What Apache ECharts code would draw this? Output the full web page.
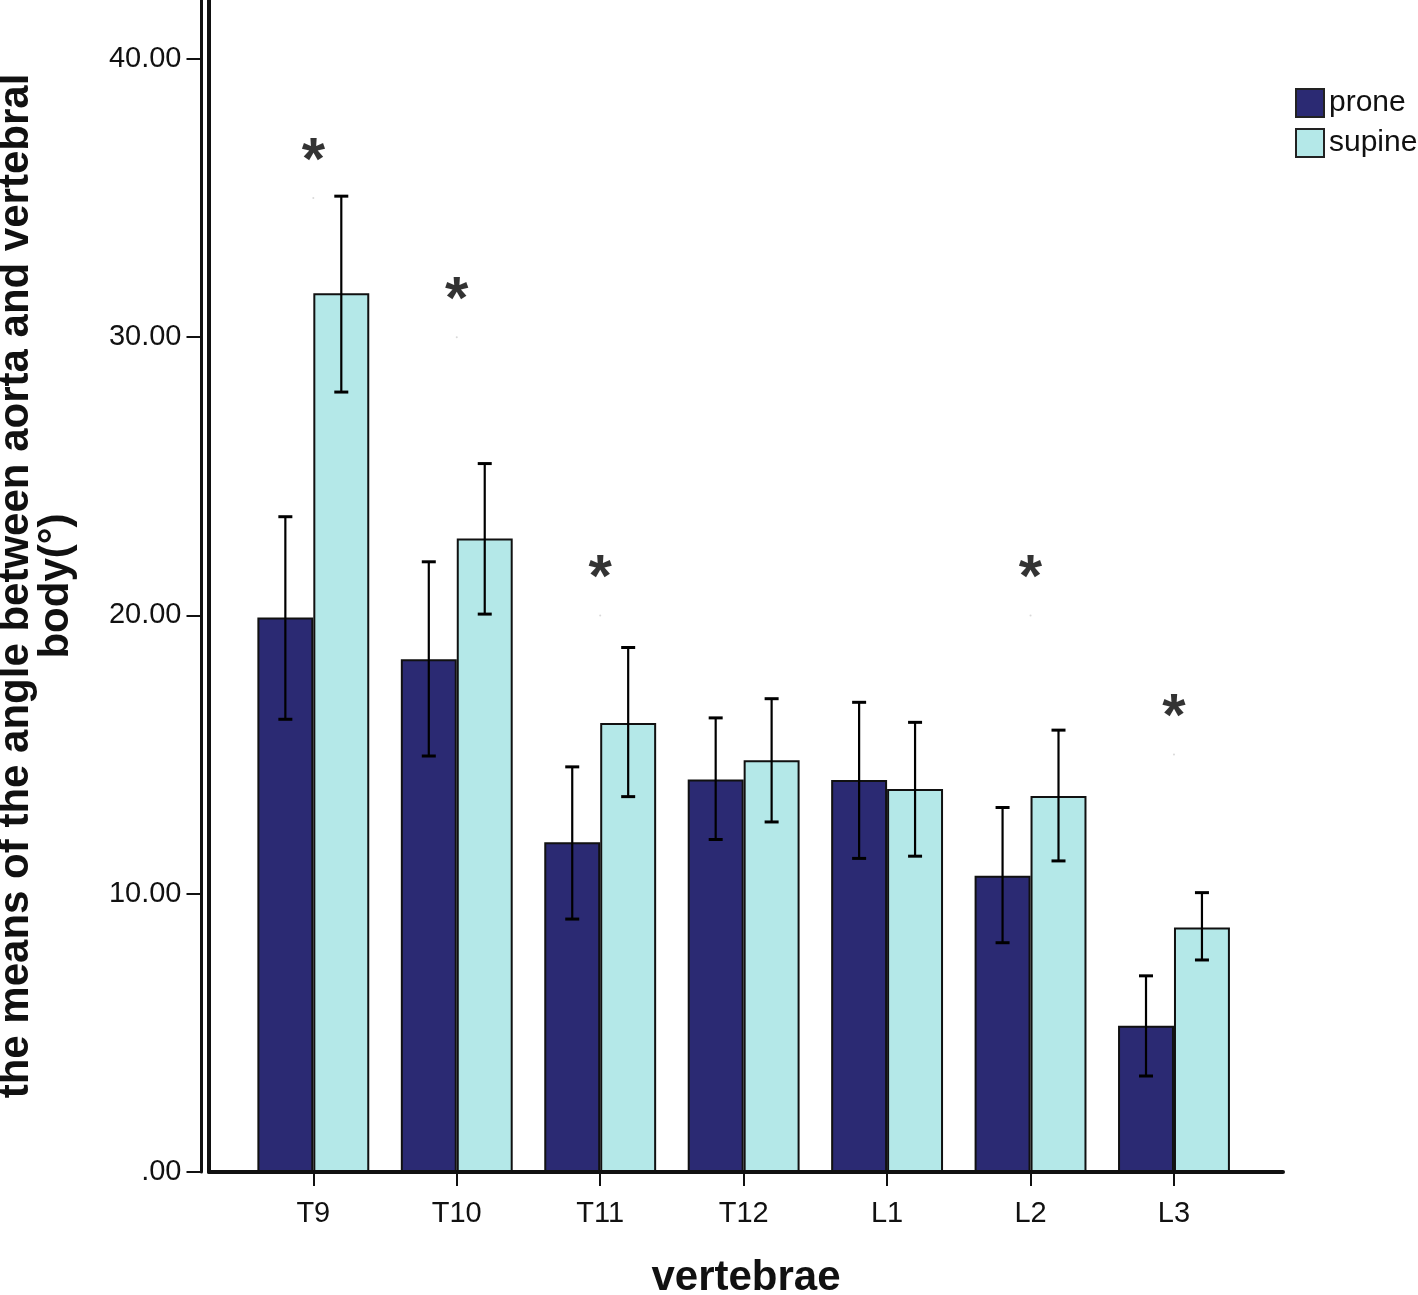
<!DOCTYPE html>
<html>
<head>
<meta charset="utf-8">
<script src="https://cdn.jsdelivr.net/npm/echarts@6/dist/echarts.min.js"></script>
<style>
  html, body { margin: 0; padding: 0; background: #ffffff; }
  #chart { width: 1418px; height: 1295px; }
</style>
</head>
<body>
<div id="chart"></div>
<script>
// ---- data ----
const categories = ['T9', 'T10', 'T11', 'T12', 'L1', 'L2', 'L3'];
const seriesNames = ['prone', 'supine'];
const proneMean  = [19.93, 18.43, 11.85, 14.11, 14.09, 10.65, 5.26];
const proneLow   = [16.27, 14.95, 9.09, 11.95, 11.27, 8.24, 3.45];
const proneHigh  = [23.55, 21.93, 14.56, 16.32, 16.88, 13.10, 7.05];
const supineMean = [31.58, 22.77, 16.14, 14.80, 13.76, 13.51, 8.79];
const supineLow  = [28.03, 20.05, 13.49, 12.58, 11.35, 11.18, 7.62];
const supineHigh = [35.07, 25.46, 18.85, 17.01, 16.16, 15.88, 10.04];
// significance markers: category and marker anchor value
const sigCategories = ['T9', 'T10', 'T11', 'L2', 'L3'];
const sigValues = [35, 30, 20, 20, 15];
const yTicks = [0, 10, 20, 30, 40];

const yMin = 0, yMax = 42.12, yInterval = 10;
const barCategoryGap = 0.22;
const FONT = "'Liberation Sans', Arial, sans-serif";

const errData = [];
categories.forEach((c, i) => {
  errData.push([i, proneLow[i], proneHigh[i], 0]);
  errData.push([i, supineLow[i], supineHigh[i], 1]);
});

function renderErr(params, api) {
  const idx = api.value(0);
  const lo = api.coord([idx, api.value(1)]);
  const hi = api.coord([idx, api.value(2)]);
  const band = api.size([1, 0])[0];
  const barW = band * (1 - barCategoryGap) / 2;
  const off = api.value(3) === 0 ? -barW / 2 : barW / 2;
  const x = lo[0] + off;
  const cap = 7;
  const style = { stroke: '#000', lineWidth: 2.2 };
  return {
    type: 'group',
    children: [
      { type: 'line', shape: { x1: x, y1: lo[1], x2: x, y2: hi[1] }, style },
      { type: 'line', shape: { x1: x - cap, y1: hi[1], x2: x + cap, y2: hi[1] }, style: { stroke: '#000', lineWidth: 3 } },
      { type: 'line', shape: { x1: x - cap, y1: lo[1], x2: x + cap, y2: lo[1] }, style: { stroke: '#000', lineWidth: 3 } }
    ]
  };
}

const chart = echarts.init(document.getElementById('chart'), null, { renderer: 'canvas' });

const hiddenAxisCommon = {
  axisLine: { show: false }, axisTick: { show: false },
  axisLabel: { show: false }, splitLine: { show: false }
};

chart.setOption({
  backgroundColor: '#ffffff',
  animation: false,
  textStyle: { fontFamily: FONT },
  grid: [
    { left: 241.6, right: 172.3, top: 0, bottom: 123, outerBoundsMode: 'none', containLabel: false },
    { left: 209, right: 135, top: 0, bottom: 123, outerBoundsMode: 'none', containLabel: false }
  ],
  legend: {
    data: seriesNames,
    orient: 'vertical',
    left: 1290,
    top: 83,
    itemWidth: 28,
    itemHeight: 28,
    itemGap: 10,
    icon: 'rect',
    itemStyle: { borderColor: '#222', borderWidth: 2 },
    textStyle: { fontSize: 30, color: '#111', fontFamily: FONT }
  },
  xAxis: [
    {
      type: 'category', gridIndex: 0, data: categories,
      boundaryGap: true, position: 'bottom', offset: 6,
      axisLine: { show: false },
      axisTick: { show: true, alignWithLabel: true, length: 14, lineStyle: { color: '#111', width: 2 } },
      axisLabel: { show: true, fontSize: 29, color: '#111', margin: 21, fontFamily: FONT },
      splitLine: { show: false }
    },
    {
      type: 'category', gridIndex: 1, data: [''], position: 'bottom', offset: 0,
      axisLine: { show: true, lineStyle: { color: '#888', width: 1.5 } },
      axisTick: { show: false }, axisLabel: { show: false }, splitLine: { show: false },
      name: 'vertebrae', nameLocation: 'middle', nameGap: 85,
      nameTextStyle: { fontSize: 42, fontWeight: 'bold', color: '#111', fontFamily: FONT, lineHeight: 42 }
    },
    {
      type: 'category', gridIndex: 1, data: [''], position: 'bottom', offset: 4,
      axisLine: { show: true, lineStyle: { color: '#111', width: 4 } },
      axisTick: { show: false }, axisLabel: { show: false }, splitLine: { show: false }
    }
  ],
  yAxis: [
    Object.assign({ type: 'value', gridIndex: 0, min: yMin, max: yMax, interval: yInterval }, hiddenAxisCommon),
    {
      type: 'value', gridIndex: 1, min: yMin, max: yMax, interval: yInterval, position: 'left', offset: 0,
      axisLine: { show: true, lineStyle: { color: '#111', width: 4 } },
      axisTick: { show: false }, axisLabel: { show: false }, splitLine: { show: false }
    },
    {
      type: 'value', gridIndex: 1, min: yMin, max: yMax, interval: yInterval, position: 'left', offset: 7.5,
      axisLine: { show: true, lineStyle: { color: '#111', width: 3 } },
      axisTick: { show: true, length: 15, customValues: yTicks, lineStyle: { color: '#111', width: 2 } },
      axisLabel: {
        show: true, fontSize: 29, color: '#111', margin: 20, fontFamily: FONT,
        customValues: yTicks, padding: [6, 0, 0, 0],
        formatter: v => (v === 0 ? '.00' : v.toFixed(2))
      },
      splitLine: { show: false },
      name: 'the means of the angle between aorta and vertebral\nbody(°)',
      nameLocation: 'middle', nameRotate: 90, nameGap: 125,
      nameTextStyle: { fontSize: 42, fontWeight: 'bold', color: '#111', fontFamily: FONT, lineHeight: 40, align: 'center' }
    }
  ],
  series: [
    {
      name: 'prone', type: 'bar', xAxisIndex: 0, yAxisIndex: 0,
      data: proneMean, barGap: '0%', barCategoryGap: (barCategoryGap * 100) + '%',
      itemStyle: { color: '#2b2a73', borderColor: '#111', borderWidth: 2 }
    },
    {
      name: 'supine', type: 'bar', xAxisIndex: 0, yAxisIndex: 0,
      data: supineMean, barGap: '0%', barCategoryGap: (barCategoryGap * 100) + '%',
      itemStyle: { color: '#b4e8e8', borderColor: '#111', borderWidth: 2 }
    },
    {
      name: 'errors', type: 'custom', xAxisIndex: 0, yAxisIndex: 0,
      renderItem: renderErr, data: errData, z: 5,
      encode: { x: 0, y: [1, 2] }
    },
    {
      name: 'sig', type: 'scatter', xAxisIndex: 0, yAxisIndex: 0,
      data: sigCategories.map((c, i) => [c, sigValues[i]]),
      symbol: 'circle', symbolSize: 2,
      itemStyle: { color: '#d0d0d0' },
      label: {
        show: true, position: 'top', distance: 5, formatter: '*',
        fontSize: 60, fontWeight: 'bold', color: '#000', fontFamily: FONT
      },
      z: 6
    }
  ]
});
</script>
</body>
</html>
